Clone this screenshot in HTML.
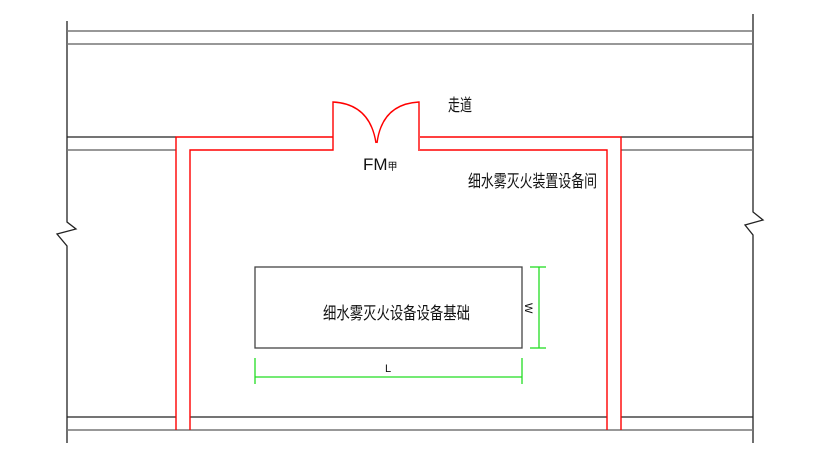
<!DOCTYPE html>
<html><head><meta charset="utf-8"><style>body{margin:0;background:#fff}svg{display:block}</style></head><body>
<svg width="820" height="456" xmlns="http://www.w3.org/2000/svg" font-family="Liberation Sans, Noto Sans CJK SC, sans-serif">
<g stroke="#222" stroke-width="1.3" fill="none">
<path d="M67 21V222L76 229L57 234L67 246V443"/>
<path d="M753 14V212L763 220L745 225L753 235V443"/>
<line x1="67" y1="31" x2="753" y2="31" stroke="#777" stroke-width="1.6"/>
<line x1="67" y1="44" x2="753" y2="44" stroke="#777" stroke-width="1.6"/>
<line x1="67" y1="137" x2="176" y2="137"/>
<line x1="67" y1="150" x2="176" y2="150" stroke="#777" stroke-width="1.6"/>
<line x1="621" y1="137" x2="753" y2="137"/>
<line x1="621" y1="150" x2="753" y2="150" stroke="#777" stroke-width="1.6"/>
<line x1="67" y1="417" x2="176" y2="417"/>
<line x1="190" y1="417" x2="607" y2="417"/>
<line x1="621" y1="417" x2="753" y2="417"/>
<line x1="67" y1="430" x2="753" y2="430" stroke="#777" stroke-width="1.6"/>
<rect x="255" y="267" width="267" height="81" stroke="#444"/>
</g>
<g stroke="#f00" stroke-width="1.4" fill="none">
<path d="M176 430V137H333"/>
<path d="M190 430V150H333V102Q370 104 376 143"/>
<path d="M419 137V102Q382 104 377 143"/>
<path d="M420 137H621V430"/>
<path d="M420 150H607V430"/>
<line x1="419" y1="137" x2="419" y2="151"/>
</g>
<g stroke="#2d2" stroke-width="1.3">
<line x1="539" y1="267" x2="539" y2="348"/>
<line x1="530" y1="267" x2="546" y2="267"/>
<line x1="530" y1="348" x2="546" y2="348"/>
<line x1="255" y1="377" x2="522" y2="377"/>
<line x1="255" y1="358" x2="255" y2="384"/>
<line x1="522" y1="358" x2="522" y2="384"/>
</g>
<g fill="#111">
<text x="448" y="111" font-size="17" textLength="24" lengthAdjust="spacingAndGlyphs">走道</text>
<text x="363" y="170" font-size="17">FM<tspan font-size="10">甲</tspan></text>
<text x="468" y="187" font-size="17" textLength="129" lengthAdjust="spacingAndGlyphs">细水雾灭火装置设备间</text>
<text x="323" y="319" font-size="17" textLength="147" lengthAdjust="spacingAndGlyphs">细水雾灭火设备设备基础</text>
<text x="385" y="372" font-size="11">L</text>
<text x="0" y="0" font-size="11" transform="translate(525,303) rotate(90)">W</text>
</g>
</svg>
</body></html>
